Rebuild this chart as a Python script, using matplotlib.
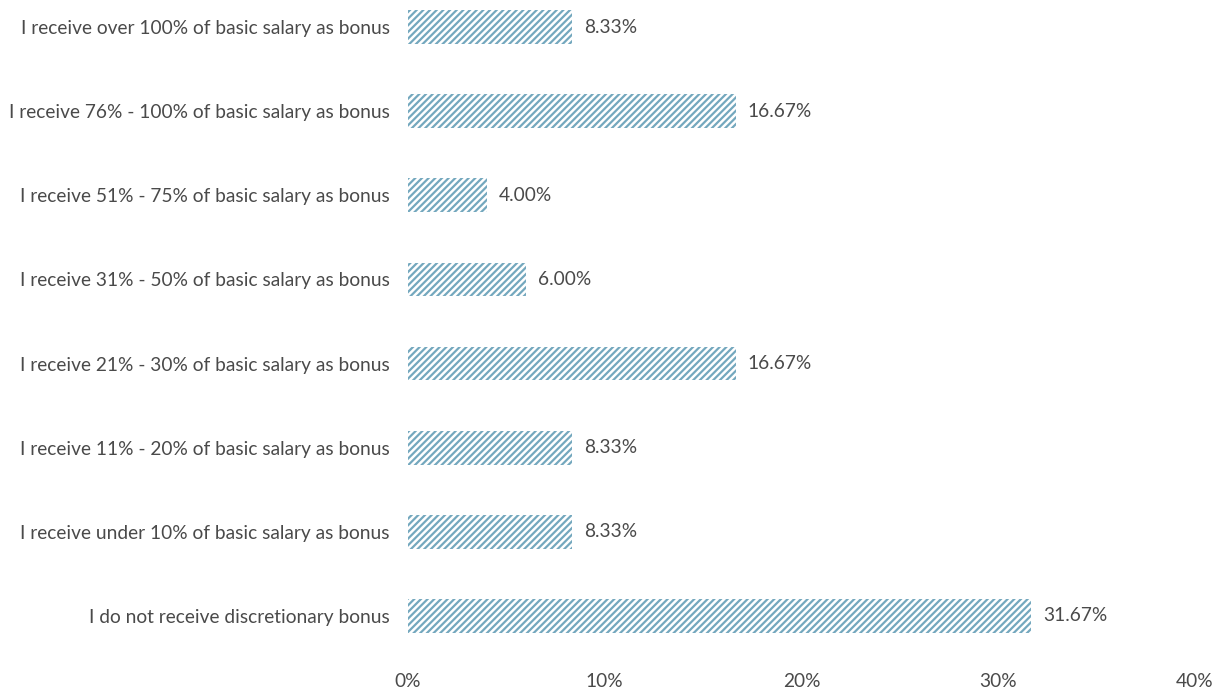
import matplotlib
matplotlib.use("Agg")
import matplotlib.pyplot as plt
from matplotlib.ticker import FuncFormatter

categories = [
    "I do not receive discretionary bonus",
    "I receive under 10% of basic salary as bonus",
    "I receive 11% - 20% of basic salary as bonus",
    "I receive 21% - 30% of basic salary as bonus",
    "I receive 31% - 50% of basic salary as bonus",
    "I receive 51% - 75% of basic salary as bonus",
    "I receive 76% - 100% of basic salary as bonus",
    "I receive over 100% of basic salary as bonus",
]
values = [31.67, 8.33, 8.33, 16.67, 6.00, 4.00, 16.67, 8.33]
x_ticks = [0, 10, 20, 30, 40]

plt.rcParams["font.family"] = ["Lato", "DejaVu Sans"]
plt.rcParams["hatch.linewidth"] = 1.6
plt.rcParams["hatch.color"] = "#74a8be"

text_color = "#4a4a4a"

fig = plt.figure(figsize=(12.23, 6.93), dpi=100)
ax = fig.add_axes([408 / 1223, 35 / 693, 787 / 1223, 673 / 693])

ypos = list(range(len(categories)))
ax.barh(ypos, values, height=0.4, color="white", edgecolor="#74a8be",
        linewidth=0, hatch="/////")

for y, v in zip(ypos, values):
    ax.text(v + 0.6, y, f"{v:.2f}%", va="center", ha="left",
            fontsize=13.8, color=text_color)

ax.set_xlim(0, 40)
ax.set_ylim(-0.5, 7.5)
ax.set_xticks(x_ticks)
ax.xaxis.set_major_formatter(FuncFormatter(lambda v, _: f"{v:.0f}%"))
ax.set_yticks(ypos)
ax.set_yticklabels(categories)
ax.tick_params(axis="both", length=0, labelsize=13.8, labelcolor=text_color)
ax.tick_params(axis="x", pad=11)
ax.tick_params(axis="y", pad=13)
for s in ax.spines.values():
    s.set_visible(False)

fig.savefig("out.png", dpi=100)
